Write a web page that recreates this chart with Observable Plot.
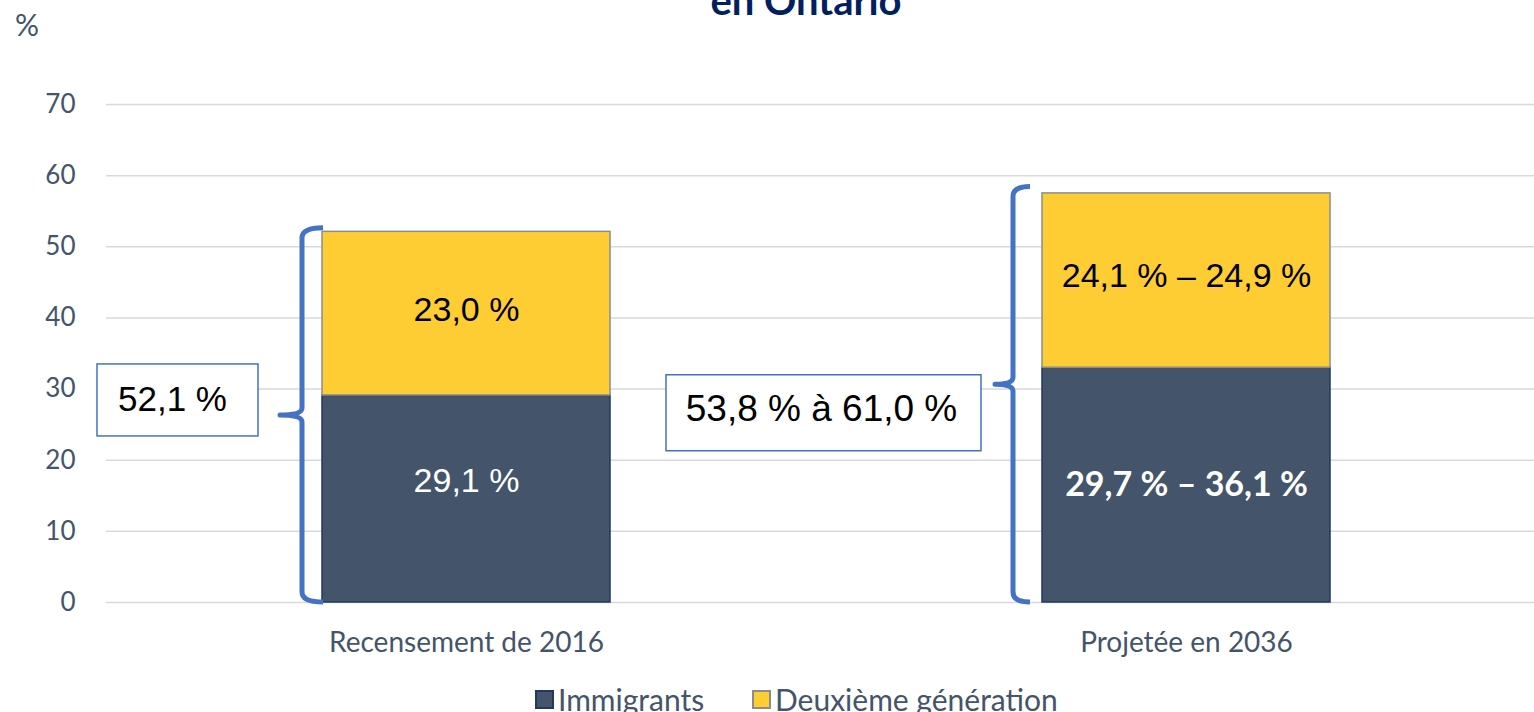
<!DOCTYPE html>
<html><head><meta charset="utf-8">
<script src="https://cdn.jsdelivr.net/npm/d3@7"></script>
<script src="https://cdn.jsdelivr.net/npm/@observablehq/plot@0.6"></script>
<style>
html,body{margin:0;padding:0;background:#fff;}
#wrap{position:relative;width:1534px;height:712px;overflow:hidden;font-family:Lato,sans-serif;}
#title{position:absolute;left:0;width:1612px;top:-20.5px;text-align:center;font:bold 40px/40px Lato,sans-serif;color:#002060;white-space:nowrap;}
#unit{position:absolute;left:15px;top:9px;font:30px/30px Lato,sans-serif;color:#44546a;}
#chart{position:absolute;left:0;top:0;}
.leg{position:absolute;top:684px;font:30px/30px Lato,sans-serif;color:#44546a;white-space:nowrap;}
.sw{position:absolute;top:6px;left:0;width:15px;height:15px;border:2px solid;}
.lt{position:absolute;top:0;left:23px;}
</style></head><body>
<div id="wrap">
<div id="chart"></div>
<div id="title">en Ontario</div>
<div id="unit">%</div>
<div id="legend"></div>
</div>
<script>
// ---- data ----
const categories = ["Recensement de 2016", "Projetée en 2036"];
const series = ["Immigrants", "Deuxième génération"];
const immigrants = [29.1, 33.0];
const deuxieme = [23.0, 24.5];
const immigrantLabels = ["29,1 %", "29,7 % – 36,1 %"];
const deuxiemeLabels = ["23,0 %", "24,1 % – 24,9 %"];
const totalLabels = ["52,1 %", "53,8 % à 61,0 %"];
const yTicks = [0, 10, 20, 30, 40, 50, 60, 70];

// ---- styles ----
const fillColor = {"Immigrants": "#44546a", "Deuxième génération": "#fecd34"};
const strokeColor = {"Immigrants": "#1f3864", "Deuxième génération": "#8c8c8c"};

const rows = [];
categories.forEach((c, i) => {
  rows.push({cat: c, idx: i, series: series[0], y1: 0, y2: immigrants[i], label: immigrantLabels[i]});
  rows.push({cat: c, idx: i, series: series[1], y1: immigrants[i], y2: immigrants[i] + deuxieme[i], label: deuxiemeLabels[i]});
});
const mid = d => (d.y1 + d.y2) / 2;

const plot = Plot.plot({
  width: 1534, height: 672,
  marginLeft: 106, marginRight: 0, marginTop: 104, marginBottom: 70,
  style: {fontFamily: "Lato, sans-serif", fontSize: "26px", color: "#44546a", background: "transparent", overflow: "visible"},
  x: {domain: categories, range: [106, 1546], paddingInner: 0.6, paddingOuter: 0.3, tickSize: 0, tickPadding: 30, label: null},
  y: {domain: [0, 70], ticks: yTicks, tickSize: 0, tickPadding: 31, label: null},
  marks: [
    Plot.ruleY(yTicks, {stroke: "#d9d9d9", strokeWidth: 1.5}),
    Plot.barY(rows, {x: "cat", y1: "y1", y2: "y2", fill: d => fillColor[d.series], stroke: d => strokeColor[d.series], strokeWidth: 1.5}),
    Plot.text(rows.filter(d => d.series === series[1]), {x: "cat", y: mid, text: "label", fill: "#000", fontFamily: "Liberation Sans, Arial, sans-serif", fontSize: 34, dy: -4}),
    Plot.text(rows.filter(d => d.series === series[0] && d.idx === 0), {x: "cat", y: mid, text: "label", fill: "#fff", fontFamily: "Liberation Sans, Arial, sans-serif", fontSize: 34, dy: -18}),
    Plot.text(rows.filter(d => d.series === series[0] && d.idx === 1), {x: "cat", y: mid, text: "label", fill: "#fff", fontFamily: "Lato, sans-serif", fontWeight: "bold", fontSize: 34})
  ]
});
document.getElementById("chart").appendChild(plot);

// axis fonts
d3.select(plot).selectAll('[aria-label^="y-axis"] text').attr("font-size", 26).style("font-size", "26px");
d3.select(plot).selectAll('[aria-label^="x-axis"] text').attr("font-size", 28).style("font-size", "28px");

// ---- annotations: braces and total boxes, placed through the plot's scales ----
const xs = plot.scale("x"), ys = plot.scale("y");
const layout = [
  {gap: 20, end: -1, tip: 22, over: 0.5, tipShift: 0, boxL: -225, boxR: -64, boxY: 28.4, boxH: 72, tdx: -5, tdy: -1.5, fs: 35},
  {gap: 29, end: 12, tip: 18, over: 0.9, tipShift: -10, boxL: -376, boxR: -61, boxY: 26.6, boxH: 76, tdx: -2, tdy: -5, fs: 37}
];
const g = d3.select(plot).append("g").attr("aria-label", "annotations");
categories.forEach((c, i) => {
  const L = layout[i];
  const left = xs.apply(c);
  const total = immigrants[i] + deuxieme[i];
  const v = left - L.gap, xe = left - L.end, xt = v - L.tip;
  const yT = ys.apply(total + L.over), yB = ys.apply(0);
  const yM = (yT + yB) / 2 + L.tipShift;
  const r = 10, r2 = 7;
  const p = `M${xe},${yT} Q${v},${yT} ${v},${yT + r} L${v},${yM - r2} Q${v},${yM} ${xt},${yM} Q${v},${yM} ${v},${yM + r2} L${v},${yB - r} Q${v},${yB} ${xe},${yB}`;
  g.append("path").attr("d", p).attr("fill", "none").attr("stroke", "#4472c4").attr("stroke-width", 5).attr("stroke-linejoin", "round");
  const cy = ys.apply(L.boxY);
  g.append("rect").attr("x", left + L.boxL).attr("y", cy - L.boxH / 2).attr("width", L.boxR - L.boxL).attr("height", L.boxH)
    .attr("fill", "#fff").attr("stroke", "#4472c4").attr("stroke-width", 1.5);
  g.append("text").attr("x", left + (L.boxL + L.boxR) / 2 + L.tdx).attr("y", cy + L.tdy).attr("dy", "0.35em")
    .attr("text-anchor", "middle").attr("font-family", "Liberation Sans, Arial, sans-serif").attr("font-size", L.fs).attr("fill", "#000")
    .text(totalLabels[i]);
});

// ---- legend ----
const legendLeft = [535, 752];
const leg = d3.select("#legend");
series.forEach((s, i) => {
  const it = leg.append("div").attr("class", "leg").style("left", legendLeft[i] + "px");
  it.append("div").attr("class", "sw").style("background", fillColor[s]).style("border-color", strokeColor[s]);
  it.append("div").attr("class", "lt").text(s);
});
</script>
</body></html>
